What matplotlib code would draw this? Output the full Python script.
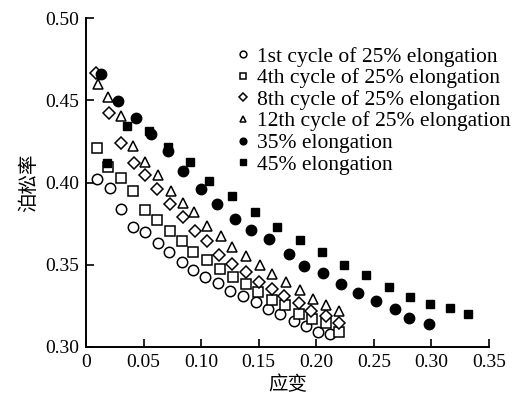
import numpy as np
import matplotlib
matplotlib.use('Agg')
import matplotlib.pyplot as plt

plt.rcParams['font.family'] = ['Liberation Serif', 'Noto Sans CJK SC']
plt.rcParams['mathtext.fontset'] = 'stix'

# strain / Poisson's ratio
x1 = [0.0098, 0.0209, 0.0302, 0.0411, 0.0516, 0.0626, 0.0722, 0.0830, 0.0928, 0.1035,
      0.1142, 0.1252, 0.1361, 0.1474, 0.1583, 0.1687, 0.1803, 0.1907, 0.2011, 0.2116]
y1 = [0.4024, 0.3968, 0.3841, 0.3727, 0.3697, 0.3632, 0.3579, 0.3514, 0.3470, 0.3425,
      0.3388, 0.3343, 0.3313, 0.3273, 0.3230, 0.3201, 0.3159, 0.3130, 0.3093, 0.3077]

x4 = [0.0093, 0.0191, 0.0302, 0.0409, 0.0510, 0.0617, 0.0728, 0.0835, 0.0930, 0.1050,
      0.1165, 0.1276, 0.1389, 0.1498, 0.1616, 0.1732, 0.1850, 0.1963, 0.2084, 0.2197]
y4 = [0.4212, 0.4096, 0.4029, 0.3947, 0.3835, 0.3770, 0.3703, 0.3642, 0.3579, 0.3526,
      0.3474, 0.3423, 0.3384, 0.3337, 0.3287, 0.3253, 0.3201, 0.3171, 0.3145, 0.3091]

x8 = [0.0084, 0.0200, 0.0307, 0.0417, 0.0513, 0.0620, 0.0730, 0.0839, 0.0943, 0.1052,
      0.1159, 0.1272, 0.1387, 0.1504, 0.1617, 0.1723, 0.1850, 0.1957, 0.2087, 0.2194]
y8 = [0.4665, 0.4425, 0.4238, 0.4118, 0.4043, 0.3962, 0.3870, 0.3790, 0.3706, 0.3645,
      0.3561, 0.3504, 0.3457, 0.3398, 0.3352, 0.3311, 0.3266, 0.3221, 0.3191, 0.3145]

x12 = [0.0104, 0.0191, 0.0302, 0.0409, 0.0510, 0.0626, 0.0742, 0.0839, 0.0939, 0.1050,
       0.1171, 0.1270, 0.1391, 0.1513, 0.1617, 0.1735, 0.1861, 0.1971, 0.2087, 0.2200]
y12 = [0.4598, 0.4520, 0.4404, 0.4221, 0.4122, 0.4043, 0.3947, 0.3876, 0.3823, 0.3734,
       0.3673, 0.3610, 0.3553, 0.3500, 0.3444, 0.3398, 0.3348, 0.3293, 0.3256, 0.3218]

x35 = [0.0133, 0.0278, 0.0432, 0.0563, 0.0713, 0.0845, 0.0997, 0.1137, 0.1296, 0.1437,
       0.1591, 0.1759, 0.1897, 0.2061, 0.2215, 0.2365, 0.2516, 0.2680, 0.2809, 0.2977]
y35 = [0.4659, 0.4494, 0.4393, 0.4293, 0.4192, 0.4073, 0.3962, 0.3870, 0.3779, 0.3709,
       0.3657, 0.3563, 0.3495, 0.3449, 0.3384, 0.3331, 0.3282, 0.3229, 0.3175, 0.3142]

x45 = [0.0183, 0.0357, 0.0548, 0.0716, 0.0904, 0.1072, 0.1267, 0.1470, 0.1655, 0.1855,
       0.2050, 0.2237, 0.2435, 0.2629, 0.2817, 0.2985, 0.3165, 0.3316]
y45 = [0.4116, 0.4343, 0.4313, 0.4218, 0.4122, 0.4008, 0.3921, 0.3823, 0.3730, 0.3648,
       0.3575, 0.3500, 0.3437, 0.3362, 0.3301, 0.3260, 0.3238, 0.3203]

labels = ['1st cycle of 25% elongation', '4th cycle of 25% elongation',
          '8th cycle of 25% elongation', '12th cycle of 25% elongation',
          '35% elongation', '45% elongation']

fig = plt.figure(figsize=(5.16, 4.01), dpi=100)
ax = fig.add_axes([0.1667, 0.1347, 0.781, 0.8203])

ms = 7.5
ax.plot(x1, y1, 'o', ms=ms, mfc='white', mec='black', mew=1.1, label=labels[0])
ax.plot(x4, y4, 's', ms=ms - 1, mfc='white', mec='black', mew=1.1, label=labels[1])
ax.plot(x8, y8, 'D', ms=ms - 1.5, mfc='white', mec='black', mew=1.1, label=labels[2])
ax.plot(x12, y12, '^', ms=ms, mfc='white', mec='black', mew=1.1, label=labels[3])
ax.plot(x35, y35, 'o', ms=ms, color='black', label=labels[4])
ax.plot(x45, y45, 's', ms=ms - 1.5, color='black', label=labels[5])

ax.set_xlim(0, 0.35)
ax.set_ylim(0.30, 0.50)
ax.set_xticks(np.arange(0, 0.351, 0.05))
ax.set_xticklabels(['0', '0.05', '0.10', '0.15', '0.20', '0.25', '0.30', '0.35'])
ax.set_yticks(np.arange(0.30, 0.501, 0.05))
ax.set_yticklabels(['0.30', '0.35', '0.40', '0.45', '0.50'])
ax.tick_params(direction='in', length=6, width=1.2, labelsize=14, pad=5)
for s in ['top', 'right']:
    ax.spines[s].set_visible(False)
for s in ['left', 'bottom']:
    ax.spines[s].set_linewidth(1.4)

ax.set_xlabel('应变', fontsize=14, family=['Noto Sans CJK SC'], labelpad=2)
ax.set_ylabel('泊松率', fontsize=14, family=['Noto Sans CJK SC'])

ax.legend(loc='upper left', bbox_to_anchor=(0.375, 0.913), frameon=False,
          fontsize=15.5, markerscale=0.65, handlelength=0.55, handletextpad=0.35,
          labelspacing=0.07, borderaxespad=0, borderpad=0)

plt.savefig('out.png', dpi=100)
